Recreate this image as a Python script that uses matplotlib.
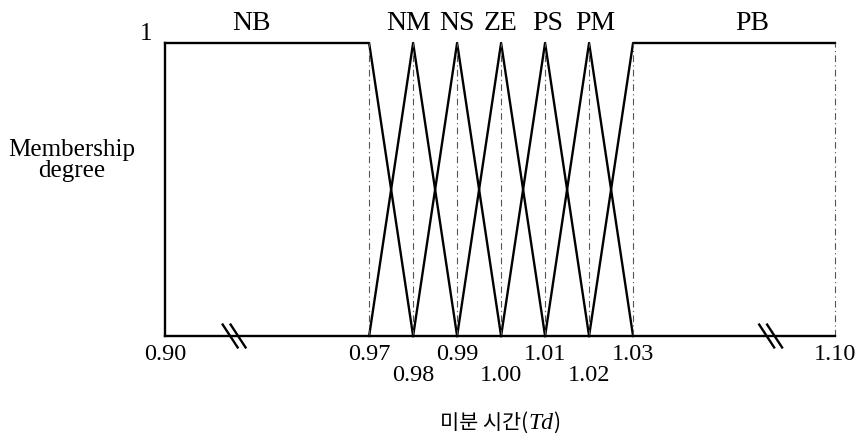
import numpy as np
import matplotlib
matplotlib.use('Agg')
import matplotlib.pyplot as plt

# fuzzy sets for the derivative time Td
set_names = ['NB', 'NM', 'NS', 'ZE', 'PS', 'PM', 'PB']
set_x = [
    [0.90, 0.97, 0.98],
    [0.97, 0.98, 0.99],
    [0.98, 0.99, 1.00],
    [0.99, 1.00, 1.01],
    [1.00, 1.01, 1.02],
    [1.01, 1.02, 1.03],
    [1.02, 1.03, 1.10],
]
set_y = [
    [1, 1, 0],
    [0, 1, 0],
    [0, 1, 0],
    [0, 1, 0],
    [0, 1, 0],
    [0, 1, 0],
    [0, 1, 1],
]
label_x = [0.9295, 0.979, 0.99, 1.0, 1.0105, 1.0215, 1.0712]

ticks = [0.90, 0.97, 0.98, 0.99, 1.00, 1.01, 1.02, 1.03, 1.10]
tick_labels = ['0.90', '0.97', '\n0.98', '0.99', '\n1.00', '1.01', '\n1.02', '1.03', '1.10']

# broken axis: compress the outer ranges
brk_x = [0.90, 0.97, 1.03, 1.10]
brk_u = [0.0, 4.64, 10.64, 15.23]

def fwd(x):
    return np.interp(x, brk_x, brk_u)

def inv(u):
    return np.interp(u, brk_u, brk_x)

serif = ['Liberation Serif', 'DejaVu Serif']
kr = ['Noto Sans CJK KR', 'DejaVu Sans']

fig = plt.figure(figsize=(8.64, 4.47), dpi=100)
ax = fig.add_axes([0.191, 0.2483, 0.7754, 0.6555])
ax.set_xscale('function', functions=(fwd, inv))
ax.set_xlim(0.90, 1.10)
ax.set_ylim(0, 1)

for xs, ys in zip(set_x, set_y):
    ax.plot(xs, ys, color='black', lw=1.7, clip_on=False)
ax.plot([0.90, 0.90], [0, 1], color='black', lw=1.7, clip_on=False)

for t in ticks[1:]:
    ax.plot([t, t], [0, 1], color='#555555', lw=0.8,
            linestyle=(0, (6, 3, 1, 3)), clip_on=False)

for name, lx in zip(set_names, label_x):
    ax.text(lx, 1.044, name, ha='center', va='baseline', fontsize=20, family=serif)

for sp in ['top', 'right', 'left']:
    ax.spines[sp].set_visible(False)
ax.spines['bottom'].set_linewidth(1.7)

ax.set_xticks(ticks)
ax.set_xticklabels(tick_labels, family=serif, fontsize=17.5, linespacing=1.0)
ax.xaxis.set_minor_locator(matplotlib.ticker.NullLocator())
ax.tick_params(axis='x', length=0, pad=6)
ax.set_yticks([])

ax.text(-0.019, 1.0102, '1', transform=ax.transAxes, ha='right', va='baseline',
        fontsize=18, family=serif)
ax.text(-0.139, 0.60, 'Membership\ndegree', transform=ax.transAxes, ha='center',
        va='center', fontsize=18, family=serif, linespacing=0.95)

# break marks on the bottom axis
for bx in [0.9237, 1.0777]:
    for off in [-0.09, 0.09]:
        u = fwd(bx) + off
        ax.plot([inv(u - 0.17), inv(u + 0.17)], [0.039, -0.039], color='black',
                lw=1.7, clip_on=False)

t1 = fig.text(440 / 864, 0.04, '미분 시간(', ha='left', va='baseline',
              fontsize=15, family=kr)
t2 = ax.annotate('Td', xy=(1, 0), xycoords=t1, va='bottom', ha='left',
                 fontsize=17, family=serif, style='italic')
t3 = ax.annotate(')', xy=(1, 0), xycoords=t2, va='bottom', ha='left',
                 fontsize=15, family=kr)

fig.savefig('out.png', dpi=100)
